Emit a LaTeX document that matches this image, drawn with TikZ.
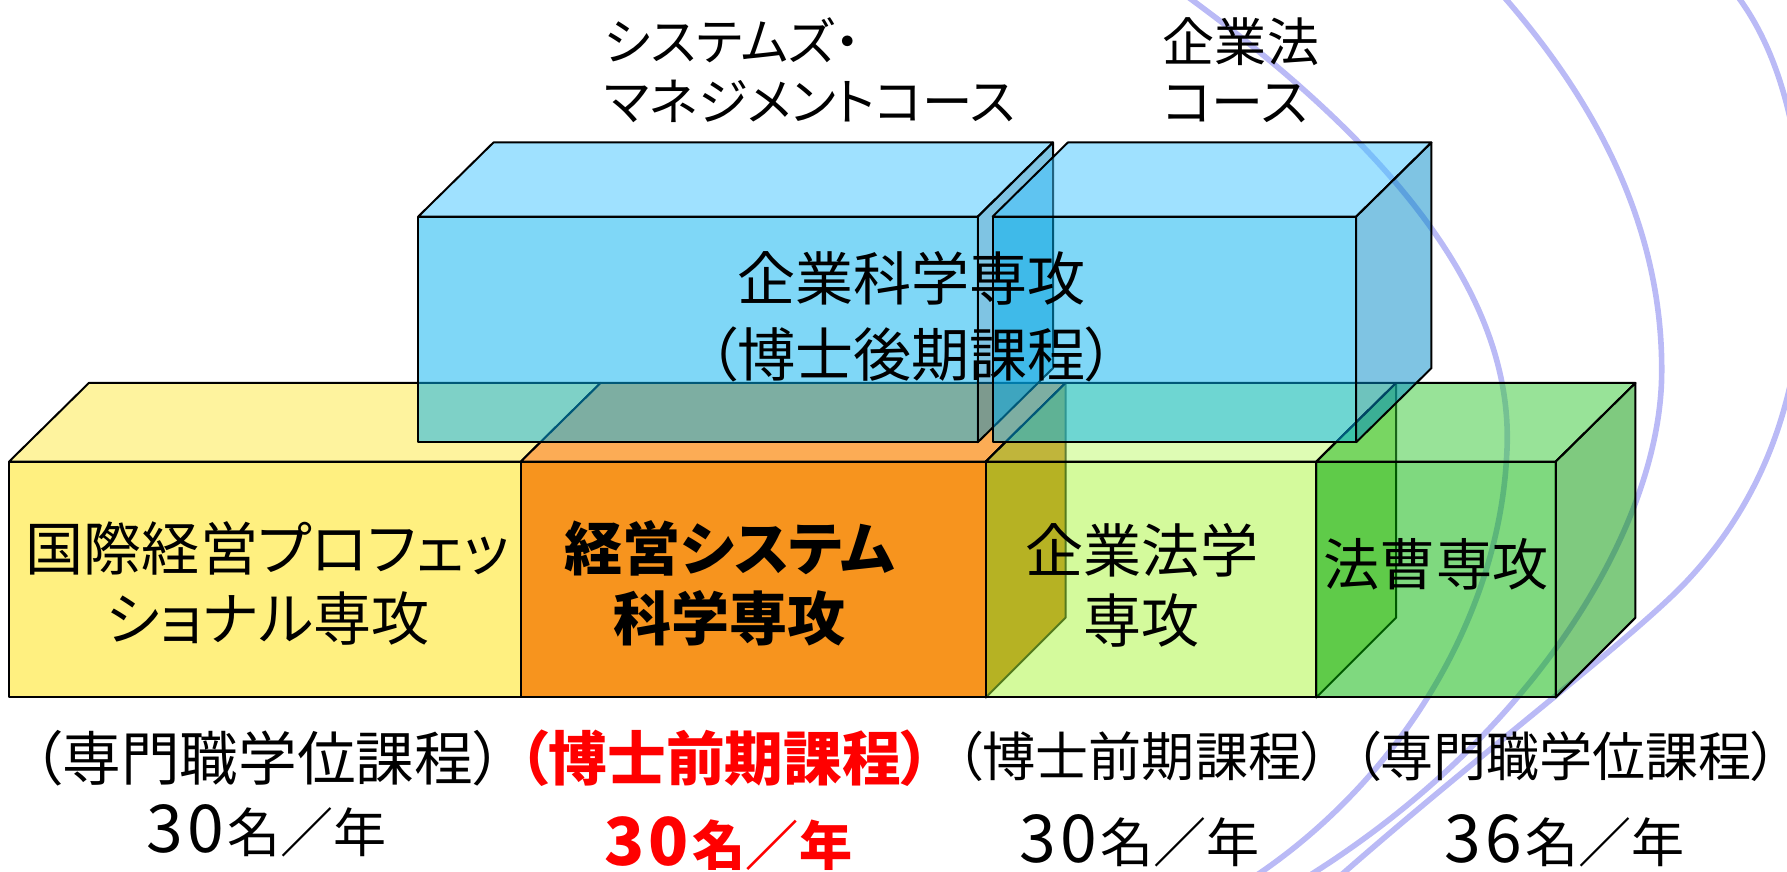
\documentclass[tikz,border=0pt]{standalone}
\usepackage{fontspec}
\setmainfont[RawFeature=+palt]{Noto Sans CJK JP}
\newfontfamily\widejp{Noto Sans CJK JP}
\usepackage{tikz}
\usetikzlibrary{calc}

\definecolor{yellowfront}{RGB}{255,240,128}
\definecolor{yellowtop}{RGB}{254,243,158}
\definecolor{orangefront}{RGB}{247,148,30}
\definecolor{orangetop}{RGB}{252,172,85}
\definecolor{orangeside}{RGB}{196,112,14}
\definecolor{limefront}{RGB}{169,245,57}
\definecolor{limetop}{RGB}{190,250,105}
\definecolor{limeside}{RGB}{130,200,40}
\definecolor{greenfront}{RGB}{0,180,0}
\definecolor{greentop}{RGB}{50,200,50}
\definecolor{greenside}{RGB}{0,150,0}
\definecolor{bluefront}{RGB}{0,176,240}
\definecolor{bluetop}{RGB}{64,196,255}
\definecolor{blueside}{RGB}{0,138,200}
\definecolor{swooshblue}{RGB}{186,186,246}

\begin{document}
\begin{tikzpicture}[x=0.02cm,y=-0.02cm,
	face/.style={draw=black,line width=1pt,line join=round},
	glass/.style={face,fill opacity=0.5},
	swoosh/.style={draw=swooshblue,line width=2.8pt},
	toplabel/.style={align=left,inner sep=0pt,anchor=west,font=\fontsize{26}{30}\selectfont},
	boxtext/.style={align=center,inner sep=0pt,font=\fontsize{29}{35}\selectfont},
	course/.style={inner sep=0pt,font=\fontsize{26.5}{30}\selectfont},
	quota/.style={inner sep=0pt,font=\widejp\fontsize{26.5}{30}\selectfont}]
	\clip (0,0) rectangle (1568,765);
	\draw[swoosh] (985,-45) -- (1046,0) .. controls (1250,150) and (1330,280) .. (1322,400)
		.. controls (1315,540) and (1230,680) .. (1107,765) -- (1047,806);
	\draw[swoosh] (1290,-37) -- (1322,0) .. controls (1400,90) and (1460,200) .. (1458,330)
		.. controls (1456,460) and (1350,640) .. (1154,765) -- (1100,800);
	\draw[swoosh] (1505,-30) -- (1527,0) .. controls (1570,60) and (1585,150) .. (1582,240)
		.. controls (1580,380) and (1525,462) .. (1480,510)
		.. controls (1435,558) and (1300,660) .. (1180,765) -- (1140,800);

	\filldraw[face,fill=yellowtop] (8,405) -- (78,336) -- (527,336) -- (457,405) -- cycle;
	\filldraw[face,fill=yellowfront] (8,405) rectangle (457,612);
	\filldraw[face,fill=orangetop] (457,405) -- (527,336) -- (935,336) -- (865,405) -- cycle;
	\filldraw[face,fill=orangeside] (865,405) -- (935,336) -- (935,542) -- (865,612) -- cycle;
	\filldraw[face,fill=orangefront] (457,405) rectangle (865,612);
	\filldraw[glass,fill=limetop] (865,405) -- (935,336) -- (1225,336) -- (1155,405) -- cycle;
	\filldraw[glass,fill=limeside] (1155,405) -- (1225,336) -- (1225,542) -- (1155,612) -- cycle;
	\filldraw[glass,fill=limefront] (865,405) rectangle (1155,612);
	\filldraw[glass,fill=greentop] (1155,405) -- (1225,336) -- (1435,336) -- (1365,405) -- cycle;
	\filldraw[glass,fill=greenside] (1365,405) -- (1435,336) -- (1435,542) -- (1365,612) -- cycle;
	\filldraw[glass,fill=greenfront] (1155,405) rectangle (1365,612);
	\filldraw[glass,fill=bluetop] (367,190) -- (433,125) -- (924,125) -- (858,190) -- cycle;
	\filldraw[glass,fill=blueside] (858,190) -- (924,125) -- (924,323) -- (858,388) -- cycle;
	\filldraw[glass,fill=bluefront] (367,190) rectangle (858,388);
	\filldraw[glass,fill=bluetop] (871,190) -- (937,125) -- (1256,125) -- (1190,190) -- cycle;
	\filldraw[glass,fill=blueside] (1190,190) -- (1256,125) -- (1256,323) -- (1190,388) -- cycle;
	\filldraw[glass,fill=bluefront] (871,190) rectangle (1190,388);

	\draw (530,62) node (mgmtcourse) [toplabel,font=\fontsize{25.2}{30}\selectfont] {システムズ・\\マネジメントコース};
	\draw (1020,62) node (lawcourse) [toplabel] {企業法\\コース};
	\draw (800,278) node (kigyo) [boxtext,font=\fontsize{29}{38}\selectfont] {企業科学専攻\\（博士後期課程）};
	\draw (235,512) node (kokusai) [boxtext] {国際経営プロフェッ\\ショナル専攻};
	\draw (640,512) node (keiei) [boxtext,font=\bfseries\fontsize{29}{35}\selectfont] {経営システム\\科学専攻};
	\draw (1002,514) node (kigyoho) [boxtext] {企業法学\\専攻};
	\draw (1260,495) node (hoso) [boxtext,font=\fontsize{28}{35}\selectfont] {法曹専攻};

	\draw (235,665) node (course1) [course,font=\fontsize{29.3}{30}\selectfont] {（専門職学位課程）};
	\draw (636,665) node (course2) [course,text=red,font=\bfseries\fontsize{29.3}{30}\selectfont] {（博士前期課程）};
	\draw (1002,664) node (course3) [course] {（博士前期課程）};
	\draw (1374,664) node (course4) [course] {（専門職学位課程）};
	\draw (234,729) node (quota1) [quota] {{\fontsize{33}{30}\selectfont 3\kern2pt 0\kern2pt}名／年};
	\draw (639,740) node (quota2) [quota,text=red,font=\widejp\bfseries\fontsize{26.5}{30}\selectfont] {{\fontsize{33}{30}\selectfont 3\kern2pt 0\kern2pt}名／年};
	\draw (1000,738) node (quota3) [quota] {{\fontsize{33}{30}\selectfont 3\kern2pt 0\kern2pt}名／年};
	\draw (1373,738) node (quota4) [quota] {{\fontsize{33}{30}\selectfont 3\kern2pt 6\kern2pt}名／年};
\end{tikzpicture}
\end{document}
